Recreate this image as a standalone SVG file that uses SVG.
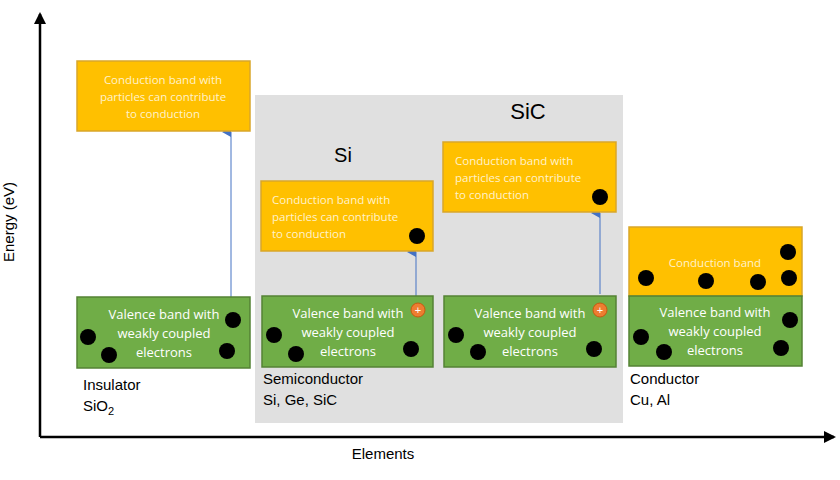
<svg xmlns="http://www.w3.org/2000/svg" width="840" height="480" viewBox="0 0 840 480">
<style>
.cb{fill:#ffc000;stroke:#d9a62a;stroke-width:1.5}
.vb{fill:#70ad47;stroke:#548235;stroke-width:1.5}
.ct{font-family:"Open Sans",sans-serif;font-size:11.5px;fill:#fff2cc}
.vt{font-family:"Open Sans",sans-serif;font-size:13px;fill:#fff;text-anchor:middle}
.lb{font-family:"Liberation Sans",Arial,sans-serif;font-size:15px;fill:#000}
.e circle{fill:#4472c4;stroke:#2f5597;stroke-width:1.5}
.e text,.h text{font-family:"Liberation Sans",sans-serif;font-size:11px;fill:#fff;text-anchor:middle}
.h circle{fill:#ed7d31;stroke:#c55a11;stroke-width:1}
.ar{stroke:#4472c4;stroke-width:1;fill:none}
</style>
<defs>
<marker id="ah" markerWidth="10" markerHeight="10" refX="5" refY="9" orient="auto-start-reverse" markerUnits="userSpaceOnUse" viewBox="0 0 10 10"><path d="M0,9 L5,0 L10,9 Z" fill="#4472c4"/></marker>
<marker id="ax" markerWidth="12" markerHeight="12" refX="10" refY="6" orient="auto" markerUnits="userSpaceOnUse"><path d="M0,0 L12,6 L0,12 Z" fill="#000"/></marker>
<g id="el"><circle r="8"/><text y="4">-</text></g>
</defs>
<rect x="255" y="95" width="368" height="328" fill="#e0e0e0"/>
<g id="axes" stroke="#000" stroke-width="2.5">
<line x1="40" y1="437" x2="40" y2="14" marker-end="url(#ax)"/>
<line x1="40" y1="437" x2="834" y2="437" marker-end="url(#ax)"/>
</g>
<text class="lb" x="383" y="459" text-anchor="middle">Elements</text>
<text class="lb" transform="translate(14,222) rotate(-90)" text-anchor="middle">Energy (eV)</text>
<text x="343" y="162" font-family="Liberation Sans,sans-serif" font-size="20" text-anchor="middle">Si</text>
<text x="528" y="119" font-family="Liberation Sans,sans-serif" font-size="22" text-anchor="middle">SiC</text>
<g id="connectors">
<line class="ar" x1="231" y1="297" x2="231" y2="132" marker-end="url(#ah)"/>
<line class="ar" x1="416" y1="296" x2="416" y2="252" marker-end="url(#ah)"/>
<line class="ar" x1="600" y1="294" x2="600" y2="213" marker-end="url(#ah)"/>
</g>
<g id="insulator">
<rect class="cb" x="77" y="61" width="173" height="70"/>
<text class="ct" text-anchor="middle"><tspan x="163" y="84">Conduction band with</tspan><tspan x="163" y="101">particles can contribute</tspan><tspan x="163" y="118">to conduction</tspan></text>
<rect class="vb" x="77" y="297" width="173" height="71"/>
<text class="vt"><tspan x="164" y="319">Valence band with</tspan><tspan x="164" y="338">weakly coupled</tspan><tspan x="164" y="357">electrons</tspan></text>
<g class="e"><use href="#el" x="233" y="320"/><use href="#el" x="88" y="337"/><use href="#el" x="109" y="355"/><use href="#el" x="227" y="351"/></g>
<text class="lb"><tspan x="83" y="390">Insulator</tspan><tspan x="83" y="411">SiO<tspan font-size="11" dy="4">2</tspan></tspan></text>
</g>
<g id="semiconductor-si">
<rect class="cb" x="261" y="181" width="172" height="70"/>
<text class="ct"><tspan x="272" y="204">Conduction band with</tspan><tspan x="272" y="221">particles can contribute</tspan><tspan x="272" y="238">to conduction</tspan></text>
<rect class="vb" x="262" y="296" width="171" height="71"/>
<text class="vt"><tspan x="348" y="318">Valence band with</tspan><tspan x="348" y="337">weakly coupled</tspan><tspan x="348" y="356">electrons</tspan></text>
<g class="e"><use href="#el" x="417" y="236"/><use href="#el" x="274" y="335"/><use href="#el" x="296" y="354"/><use href="#el" x="411" y="349"/></g>
<g class="h"><circle cx="418" cy="310" r="7"/><text x="418" y="314">+</text></g>
<text class="lb"><tspan x="263" y="384">Semiconductor</tspan><tspan x="263" y="405">Si, Ge, SiC</tspan></text>
</g>
<g id="semiconductor-sic">
<rect class="cb" x="443" y="142" width="173" height="70"/>
<text class="ct"><tspan x="455" y="165">Conduction band with</tspan><tspan x="455" y="182">particles can contribute</tspan><tspan x="455" y="199">to conduction</tspan></text>
<rect class="vb" x="444" y="296" width="172" height="71"/>
<text class="vt"><tspan x="530" y="318">Valence band with</tspan><tspan x="530" y="337">weakly coupled</tspan><tspan x="530" y="356">electrons</tspan></text>
<g class="e"><use href="#el" x="600" y="197"/><use href="#el" x="456" y="335"/><use href="#el" x="478" y="352"/><use href="#el" x="594" y="349"/></g>
<g class="h"><circle cx="600" cy="310" r="7"/><text x="600" y="314">+</text></g>
</g>
<g id="conductor">
<rect class="cb" x="629" y="227" width="173" height="69"/>
<text class="ct" x="715" y="267" text-anchor="middle" font-size="13">Conduction band</text>
<rect class="vb" x="629" y="296" width="173" height="70"/>
<text class="vt"><tspan x="715" y="317">Valence band with</tspan><tspan x="715" y="336">weakly coupled</tspan><tspan x="715" y="355">electrons</tspan></text>
<g class="e"><use href="#el" x="788" y="252"/><use href="#el" x="646" y="278"/><use href="#el" x="706" y="281"/><use href="#el" x="758" y="282"/><use href="#el" x="789" y="278"/><use href="#el" x="790" y="320"/><use href="#el" x="641" y="337"/><use href="#el" x="664" y="352"/><use href="#el" x="781" y="348"/></g>
<text class="lb"><tspan x="630" y="384">Conductor</tspan><tspan x="630" y="405">Cu, Al</tspan></text>
</g>
</svg>
